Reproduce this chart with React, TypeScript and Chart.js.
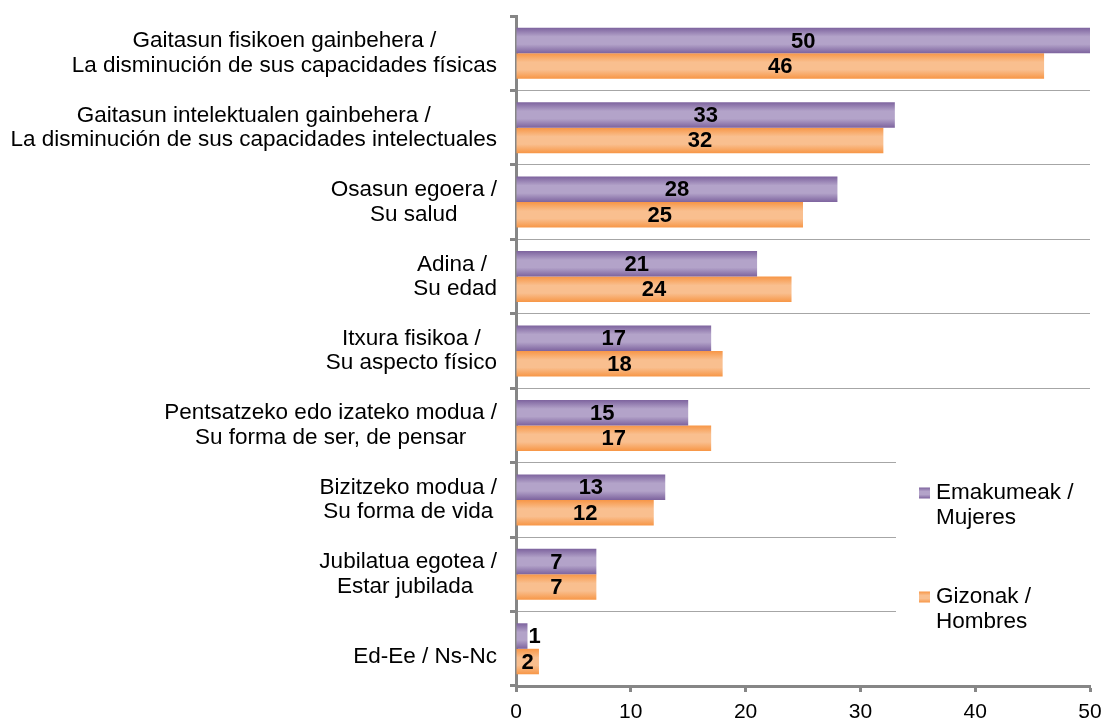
import React, { useEffect, useRef } from 'react';
import { Chart, registerables } from 'chart.js';

Chart.register(...registerables);

const categories: string[][] = [
  ['Gaitasun fisikoen gainbehera /', 'La disminución de sus capacidades físicas'],
  ['Gaitasun intelektualen gainbehera /', 'La disminución de sus capacidades intelectuales'],
  ['Osasun egoera /', 'Su salud'],
  ['Adina / ', 'Su edad'],
  ['Itxura fisikoa /', 'Su aspecto físico'],
  ['Pentsatzeko edo izateko modua /', 'Su forma de ser, de pensar'],
  ['Bizitzeko modua /', 'Su forma de vida'],
  ['Jubilatua egotea /', 'Estar jubilada '],
  ['Ed-Ee / Ns-Nc'],
];
const mujeres = [50, 33, 28, 21, 17, 15, 13, 7, 1];
const hombres = [46, 32, 25, 24, 18, 17, 12, 7, 2];
const seriesNames: string[][] = [
  ['Emakumeak /', 'Mujeres'],
  ['Gizonak /', 'Hombres'],
];
const xMin = 0;
const xMax = 50;
const xStep = 10;

const FONT = '"Liberation Sans", Arial, sans-serif';
const CAT_PCT = 0.685;
const PURPLE_EDGE = '#7D639E';
const PURPLE_MID = '#B3A3C9';
const ORANGE_EDGE = '#F79646';
const ORANGE_MID = '#F9BF8F';
const AXIS = '#868686';
const GRID = '#A6A6A6';

function grad(ctx: CanvasRenderingContext2D, top: number, h: number, edge: string, mid: string) {
  const g = ctx.createLinearGradient(0, top, 0, top + h);
  g.addColorStop(0, edge);
  g.addColorStop(0.35, mid);
  g.addColorStop(0.65, mid);
  g.addColorStop(1, edge);
  return g;
}

function barColor(edge: string, mid: string) {
  return (c: any) => {
    const chart = c.chart;
    const ys = chart.scales && chart.scales.y;
    const area = chart.chartArea;
    if (!ys || !area || c.dataIndex === undefined) return edge;
    const center = ys.getPixelForValue(c.dataIndex);
    const catW = (area.bottom - area.top) / categories.length;
    const h = (catW * CAT_PCT) / 2;
    const top = c.datasetIndex === 0 ? center - h : center;
    return grad(chart.ctx, top, h, edge, mid);
  };
}

const labelsPlugin = {
  id: 'customLabels',
  beforeDatasetsDraw(chart: any) {
    const ctx = chart.ctx;
    // legend background (covers grid lines)
    ctx.save();
    ctx.fillStyle = '#FFFFFF';
    ctx.fillRect(896, 400, 208, 280);
    ctx.restore();
  },
  afterDatasetsDraw(chart: any) {
    const ctx = chart.ctx;
    ctx.save();
    // value labels
    ctx.font = 'bold 22px ' + FONT;
    ctx.fillStyle = '#000';
    ctx.textBaseline = 'middle';
    chart.data.datasets.forEach((ds: any, di: number) => {
      const meta = chart.getDatasetMeta(di);
      meta.data.forEach((el: any, i: number) => {
        const txt = String(ds.data[i]);
        const tw = ctx.measureText(txt).width;
        const w = el.x - el.base;
        if (w < tw + 6) {
          ctx.textAlign = 'left';
          ctx.fillText(txt, el.x + 1, el.y + 1);
        } else {
          ctx.textAlign = 'center';
          ctx.fillText(txt, (el.x + el.base) / 2, el.y + 1);
        }
      });
    });
    // category labels
    const ys = chart.scales.y;
    ctx.font = '22.5px ' + FONT;
    ctx.textAlign = 'center';
    const right = chart.chartArea.left - 19;
    const lh = 24.5;
    categories.forEach((lines, i) => {
      const cy = ys.getPixelForValue(i);
      const w = Math.max(...lines.map((l) => ctx.measureText(l).width));
      const cx = right - w / 2;
      if (lines.length === 1) {
        ctx.fillText(lines[0], cx, cy + 8);
      } else {
        lines.forEach((l, k) => {
          ctx.fillText(l, cx, cy + (k - (lines.length - 1) / 2) * lh);
        });
      }
    });
    // legend
    const legendItems = [
      { lines: seriesNames[0], y: 493, edge: PURPLE_EDGE, mid: PURPLE_MID },
      { lines: seriesNames[1], y: 597, edge: ORANGE_EDGE, mid: ORANGE_MID },
    ];
    ctx.textAlign = 'left';
    legendItems.forEach((it) => {
      ctx.fillStyle = grad(ctx, it.y - 5.5, 11, it.edge, it.mid);
      ctx.fillRect(919, it.y - 5.5, 11, 11);
      ctx.fillStyle = '#000';
      it.lines.forEach((l, k) => ctx.fillText(l, 936, it.y + k * 25));
    });
    ctx.restore();
  },
};

export default function App() {
  const ref = useRef<HTMLCanvasElement>(null);
  useEffect(() => {
    if (!ref.current) return;
    const chart = new Chart(ref.current, {
      type: 'bar',
      data: {
        labels: categories.map((c) => c.join(' ')),
        datasets: [
          {
            label: seriesNames[0].join(' '),
            data: mujeres,
            backgroundColor: barColor(PURPLE_EDGE, PURPLE_MID),
            borderWidth: 0,
            barPercentage: 1,
            categoryPercentage: CAT_PCT,
          },
          {
            label: seriesNames[1].join(' '),
            data: hombres,
            backgroundColor: barColor(ORANGE_EDGE, ORANGE_MID),
            borderWidth: 0,
            barPercentage: 1,
            categoryPercentage: CAT_PCT,
          },
        ],
      },
      options: {
        indexAxis: 'y',
        responsive: false,
        animation: false,
        layout: { padding: { left: 0, top: 16, right: 14, bottom: 0 } },
        plugins: {
          legend: { display: false },
          tooltip: { enabled: false },
        },
        scales: {
          x: {
            min: xMin,
            max: xMax,
            ticks: {
              stepSize: xStep,
              color: '#000',
              font: { family: FONT, size: 21 },
              padding: 8,
            },
            grid: {
              drawOnChartArea: false,
              drawTicks: true,
              tickLength: 6,
              tickWidth: 3,
              tickColor: AXIS,
            },
            border: { color: AXIS, width: 3 },
            afterFit: (s: any) => {
              s.height = 34;
              s.paddingLeft = 0;
              s.paddingRight = 0;
            },
          },
          y: {
            offset: true,
            ticks: { display: false },
            grid: {
              offset: true,
              drawTicks: true,
              tickLength: 6,
              tickWidth: 3,
              tickColor: AXIS,
              color: (c: any) =>
                c.type !== 'tick' || c.index === 0 ? 'rgba(0,0,0,0)' : GRID,
              lineWidth: 1,
            },
            border: { color: AXIS, width: 3 },
            afterFit: (s: any) => {
              s.width = 516;
            },
          },
        },
      },
      plugins: [labelsPlugin],
    });
    return () => chart.destroy();
  }, []);
  return (
    <div style={{ position: 'fixed', left: 0, top: 0, width: 1104, height: 720, background: '#fff' }}>
      <canvas ref={ref} width={1104} height={720} />
    </div>
  );
}
